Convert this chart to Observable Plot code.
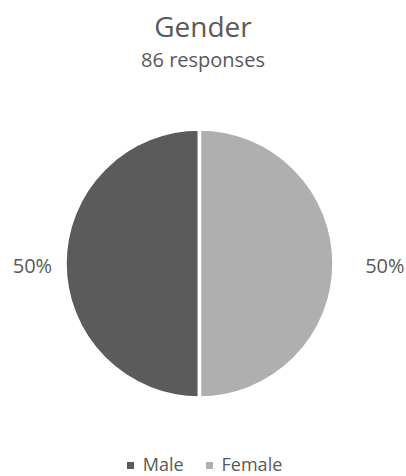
<!DOCTYPE html>
<html><head><meta charset="utf-8">
<script src="https://cdn.jsdelivr.net/npm/d3@7"></script>
<script src="https://cdn.jsdelivr.net/npm/@observablehq/plot@0.6"></script>
<style>
html,body{margin:0;padding:0;background:#fff;overflow:hidden;}
body{width:406px;height:476px;font-family:"Open Sans",sans-serif;color:#595959;}
#title{font-size:28px;line-height:30px;padding-top:11px;text-align:center;}
#subtitle{font-size:20px;line-height:30px;margin-top:4px;text-align:center;}
#chart svg{display:block;}
#legend{display:flex;justify-content:center;align-items:center;font-size:18px;line-height:20px;height:20px;margin-top:19px;padding-left:3px;}
#legend .item{display:flex;align-items:center;}
#legend .item + .item{margin-left:22px;}
#legend .sw{width:7px;height:7px;margin-right:9px;margin-top:2px;}
</style>
</head><body>
<div id="title"></div>
<div id="subtitle"></div>
<div id="chart"></div>
<div id="legend"></div>
<script>
const title = "Gender";
const subtitle = "86 responses";
const categories = ["Male", "Female"];
const counts = [43, 43];
const colors = ["#5b5b5b", "#afafaf"];

document.getElementById("title").textContent = title;
document.getElementById("subtitle").textContent = subtitle;

const total = d3.sum(counts);
const data = categories.map((c, i) => ({category: c, value: counts[i], color: colors[i]}));
const arcs = d3.pie().value(d => d.value).sort(null).startAngle(0).endAngle(-2 * Math.PI)(data);
const labels = arcs.map(a => {
  const mid = (a.startAngle + a.endAngle) / 2;
  const s = Math.sin(mid);
  const k = s < 0 ? 1.26 : 1.39;
  return {x: s * k, y: Math.cos(mid) * 0, text: d3.format(".0%")(a.data.value / total)};
});

function pieMark(index, scales) {
  const x = scales.x, y = scales.y;
  const cx = x(0), cy = y(0);
  const r = x(1) - x(0);
  const g = d3.create("svg:g").attr("transform", `translate(${cx},${cy})`);
  const arc = d3.arc().innerRadius(0).outerRadius(r + 1.5);
  g.selectAll("path").data(arcs).join("path")
    .attr("d", d => arc({startAngle: Math.min(d.startAngle, d.endAngle), endAngle: Math.max(d.startAngle, d.endAngle)}))
    .attr("fill", d => d.data.color)
    .attr("stroke", "#fff")
    .attr("stroke-width", 3.5)
    .attr("stroke-linejoin", "miter");
  return g.node();
}

const plot = Plot.plot({
  width: 406,
  height: 360,
  marginLeft: 66.5,
  marginRight: 73.5,
  marginTop: 55.5,
  marginBottom: 38.5,
  x: {domain: [-1, 1], axis: null},
  y: {domain: [-1, 1], axis: null},
  style: {fontFamily: "Open Sans, sans-serif", background: "#fff"},
  marks: [
    pieMark,
    Plot.text(labels, {x: "x", y: "y", text: "text", fontSize: 20, fill: "#595959", lineAnchor: "middle", dy: 3})
  ]
});
document.getElementById("chart").appendChild(plot);

const legend = d3.select("#legend");
categories.forEach((c, i) => {
  const it = legend.append("div").attr("class", "item");
  it.append("div").attr("class", "sw").style("background", colors[i]);
  it.append("span").text(c);
});
</script>
</body></html>
